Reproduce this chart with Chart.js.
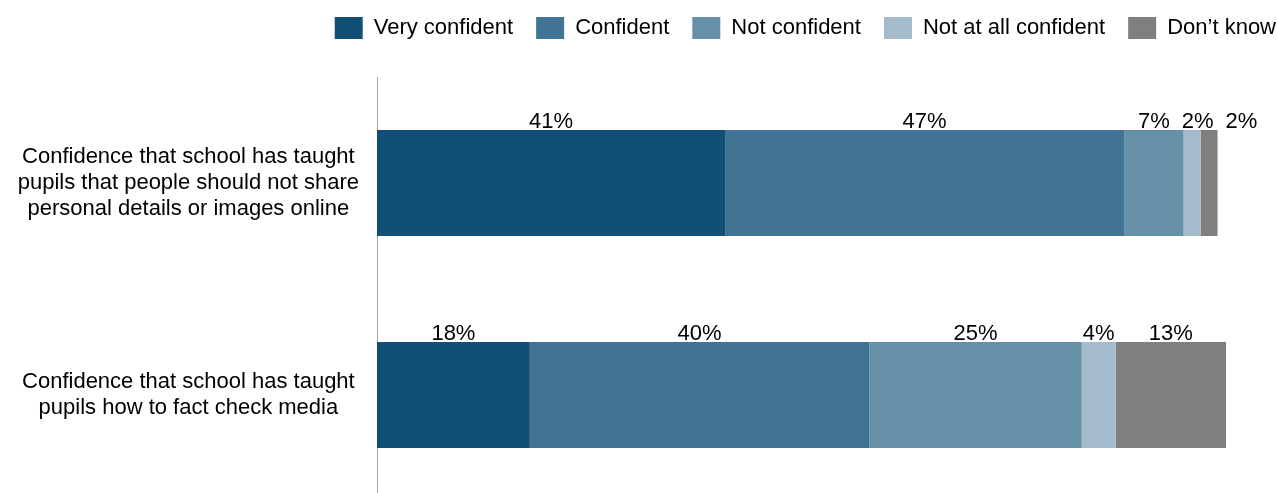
<!DOCTYPE html>
<html>
<head>
<meta charset="utf-8">
<script src="https://cdn.jsdelivr.net/npm/chart.js@4.4.1/dist/chart.umd.min.js"></script>
<style>
  html, body { margin: 0; padding: 0; background: #fff; overflow: hidden; }
  #wrap { width: 1277px; height: 501px; }
</style>
</head>
<body>
<div id="wrap"><canvas id="chart" width="1277" height="501"></canvas></div>
<script>
// Categories (one bar each) and response shares in %
const categories = [
  ['Confidence that school has taught', 'pupils that people should not share', 'personal details or images online'],
  ['Confidence that school has taught', 'pupils how to fact check media']
];
const responses = ['Very confident', 'Confident', 'Not confident', 'Not at all confident', 'Don\u2019t know'];
const veryConfident = [41, 18];
const confident = [47, 40];
const notConfident = [7, 25];
const notAtAll = [2, 4];
const dontKnow = [2, 13];
const colours = ['#124f75', '#417394', '#668fa8', '#a3bbcb', '#7f7f7f'];

const series = [veryConfident, confident, notConfident, notAtAll, dontKnow];
const FONT = "'Liberation Sans', Arial, sans-serif";

// percentage labels above each segment, nudged right when they would collide
const segmentLabels = {
  id: 'segmentLabels',
  afterDatasetsDraw(chart) {
    const ctx = chart.ctx;
    ctx.save();
    ctx.font = '22px ' + FONT;
    ctx.fillStyle = '#000';
    ctx.textAlign = 'left';
    ctx.textBaseline = 'alphabetic';
    categories.forEach((c, row) => {
      let prevRight = -Infinity;
      chart.data.datasets.forEach((ds, i) => {
        const bar = chart.getDatasetMeta(i).data[row];
        const txt = ds.data[row] + '%';
        const w = ctx.measureText(txt).width;
        let left = (bar.x + bar.base) / 2 - w / 2;
        if (left < prevRight + 12) left = prevRight + 12;
        ctx.fillText(txt, left, bar.y - bar.height / 2 - 2);
        prevRight = left + w;
      });
    });
    ctx.restore();
  }
};

// fixed legend band height, bars start at y = 77
const legendBand = {
  id: 'legendBand',
  beforeInit(chart) {
    const fit = chart.legend.fit;
    chart.legend.fit = function () {
      fit.bind(chart.legend)();
      this.height = 83;
    };
  }
};

new Chart(document.getElementById('chart'), {
  type: 'bar',
  data: {
    labels: categories,
    datasets: series.map((d, i) => ({
      label: responses[i],
      data: d,
      backgroundColor: colours[i],
      borderWidth: 0,
      barPercentage: 0.5,
      categoryPercentage: 1
    }))
  },
  options: {
    indexAxis: 'y',
    responsive: false,
    animation: false,
    layout: { padding: { top: -6, left: 0, right: -22, bottom: 0 } },
    plugins: {
      legend: {
        position: 'top',
        align: 'end',
        labels: {
          boxWidth: 28,
          boxHeight: 22,
          padding: 23,
          color: '#000',
          font: { family: FONT, size: 22 }
        }
      },
      tooltip: { enabled: false }
    },
    scales: {
      x: { stacked: true, min: 0, max: 100, display: false },
      y: {
        stacked: true,
        grid: { display: false, drawTicks: false },
        border: { display: true, color: '#a6a6a6', width: 1 },
        ticks: {
          color: '#000',
          padding: 18,
          crossAlign: 'center',
          font: { family: FONT, size: 22, lineHeight: 1.2 }
        },
        afterFit(s) {
          s.width = 377;
          s.paddingTop = 0;
          s.paddingBottom = 0;
        }
      },
      // empty right gutter so the bars stop short of the legend's right edge
      gutter: {
        type: 'linear',
        position: 'right',
        grid: { display: false },
        border: { display: false },
        ticks: { display: false },
        afterFit(s) {
          s.width = 73;
          s.paddingTop = 0;
          s.paddingBottom = 0;
        }
      }
    }
  },
  plugins: [segmentLabels, legendBand]
});
</script>
</body>
</html>
